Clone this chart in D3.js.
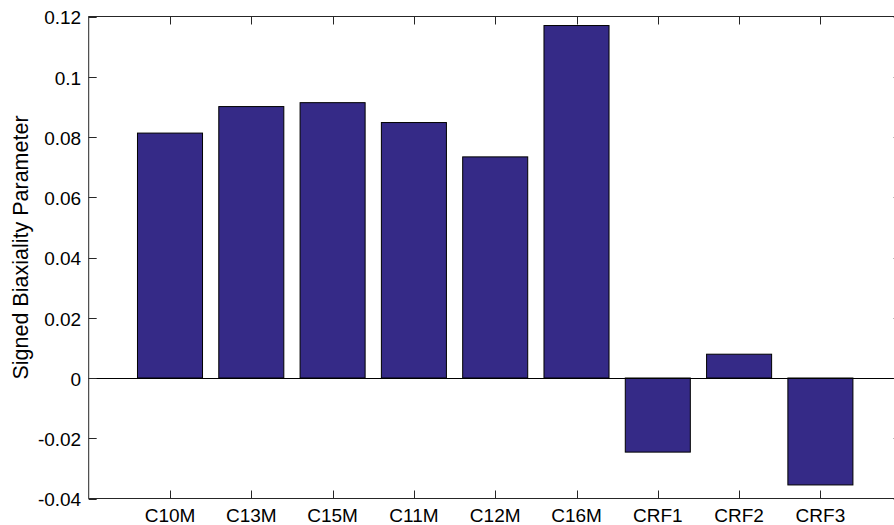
<!DOCTYPE html>
<html>
<head>
<meta charset="utf-8">
<script src="https://cdn.jsdelivr.net/npm/d3@7"></script>
<style>
  body { margin: 0; background: #fff; }
  text { font-family: "Liberation Sans", Arial, sans-serif; fill: #000; }
</style>
</head>
<body>
<div id="chart"></div>
<script>
const categories = ['C10M', 'C13M', 'C15M', 'C11M', 'C12M', 'C16M', 'CRF1', 'CRF2', 'CRF3'];
const values = [0.0813, 0.0901, 0.0914, 0.0848, 0.0734, 0.1170, -0.0246, 0.0079, -0.0355];
const yTicks = [-0.04, -0.02, 0, 0.02, 0.04, 0.06, 0.08, 0.1, 0.12];

const width = 894, height = 525;
const plot = {left: 88.7, top: 16.5, right: 901.7, bottom: 498.5};
const tickLen = 8;

const svg = d3.select('#chart')
  .append('svg')
  .attr('width', width)
  .attr('height', height);

const x = d3.scaleLinear().domain([0, categories.length + 1]).range([plot.left, plot.right]);
const y = d3.scaleLinear().domain([-0.04, 0.12]).range([plot.bottom, plot.top]);
const barW = 0.8;

// bars
svg.selectAll('rect.bar')
  .data(values)
  .enter()
  .append('rect')
  .attr('class', 'bar')
  .attr('x', (d, i) => x(i + 1 - barW / 2))
  .attr('width', x(barW) - x(0))
  .attr('y', d => y(Math.max(0, d)))
  .attr('height', d => Math.abs(y(d) - y(0)))
  .attr('fill', '#352a87')
  .attr('stroke', '#000')
  .attr('stroke-width', 1);

// baseline
svg.append('line')
  .attr('x1', plot.left).attr('x2', plot.right)
  .attr('y1', Math.round(y(0)) + 0.5).attr('y2', Math.round(y(0)) + 0.5)
  .attr('stroke', '#000');

// box
const axisColor = '#262626';
svg.append('rect')
  .attr('x', plot.left).attr('y', plot.top)
  .attr('width', plot.right - plot.left).attr('height', plot.bottom - plot.top)
  .attr('fill', 'none')
  .attr('stroke', axisColor);

// x ticks (top and bottom, inward)
const xt = svg.append('g');
categories.forEach((c, i) => {
  const px = Math.round(x(i + 1)) + 0.5;
  xt.append('line').attr('x1', px).attr('x2', px)
    .attr('y1', plot.bottom).attr('y2', plot.bottom - tickLen).attr('stroke', axisColor);
  xt.append('line').attr('x1', px).attr('x2', px)
    .attr('y1', plot.top).attr('y2', plot.top + tickLen).attr('stroke', axisColor);
  xt.append('text')
    .attr('x', x(i + 1))
    .attr('y', plot.bottom + 23)
    .attr('text-anchor', 'middle')
    .style('font-size', '19px')
    .text(c);
});

// y ticks (left and right, inward)
const yt = svg.append('g');
yTicks.forEach(t => {
  const py = Math.round(y(t)) + 0.5;
  yt.append('line').attr('x1', plot.left).attr('x2', plot.left + tickLen)
    .attr('y1', py).attr('y2', py).attr('stroke', axisColor);
  yt.append('line').attr('x1', plot.right).attr('x2', plot.right - tickLen)
    .attr('y1', py).attr('y2', py).attr('stroke', axisColor);
  yt.append('text')
    .attr('x', plot.left - 7.5)
    .attr('y', y(t))
    .attr('dy', '0.42em')
    .attr('text-anchor', 'end')
    .style('font-size', '19px')
    .text(String(t));
});

// y label
svg.append('text')
  .attr('transform', 'translate(28,247.5) rotate(-90)')
  .attr('text-anchor', 'middle')
  .style('font-size', '21.5px')
  .text('Signed Biaxiality Parameter');
</script>
</body>
</html>
